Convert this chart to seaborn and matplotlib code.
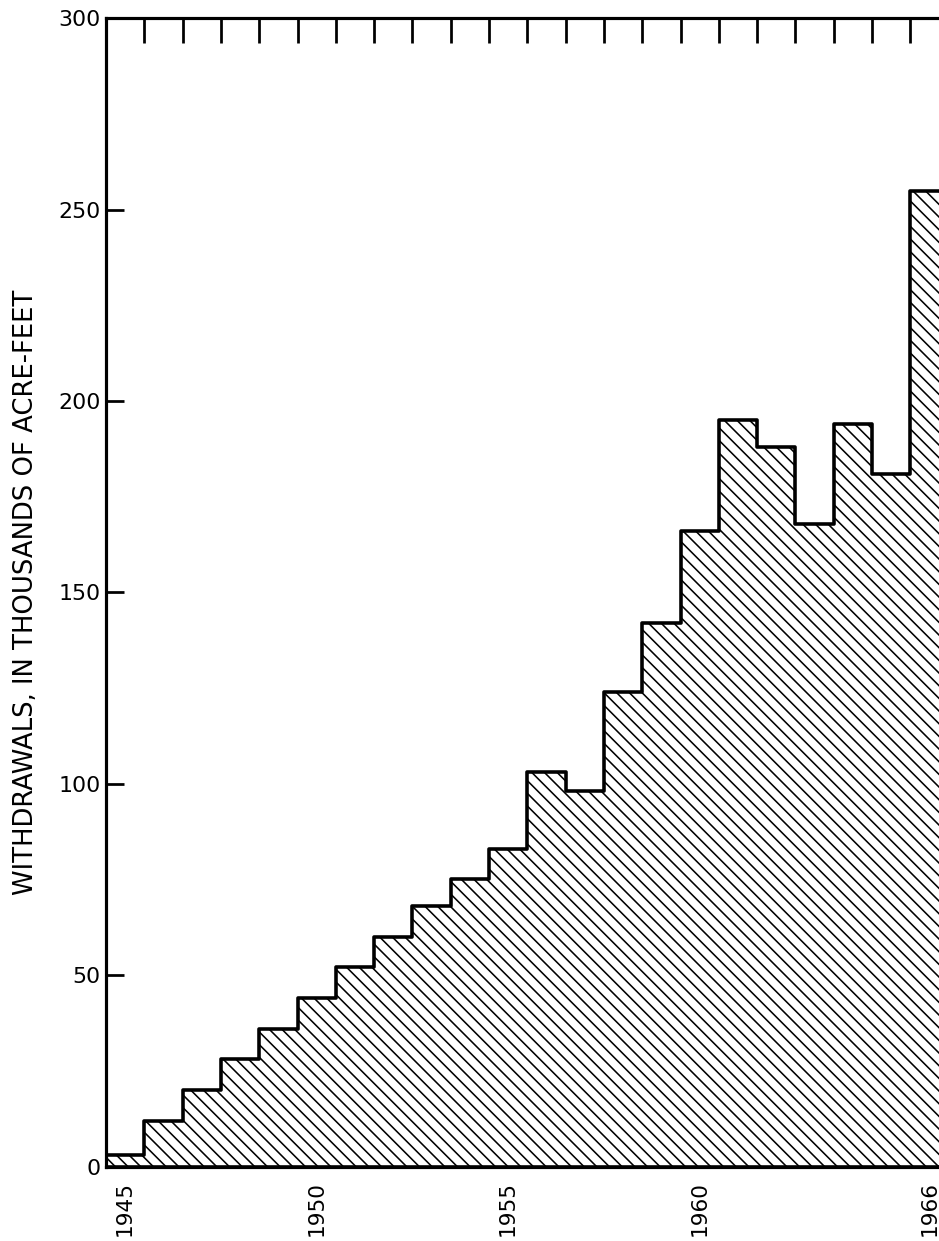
import numpy as np
import pandas as pd
import matplotlib
matplotlib.use("Agg")
import matplotlib.pyplot as plt
import seaborn as sns

# Annual ground-water withdrawals, thousands of acre-feet
years = list(range(1945, 1967))
withdrawals = [3, 12, 20, 28, 36, 44, 52, 60, 68, 75, 83,
               103, 98, 124, 142, 166, 195, 188, 168, 194, 181, 255]
year_labels = [1945, 1950, 1955, 1960, 1966]
y_ticks = [0, 50, 100, 150, 200, 250, 300]
y_label = "WITHDRAWALS, IN THOUSANDS OF ACRE-FEET"

df = pd.DataFrame({"year": years, "withdrawals": withdrawals})

DPI = 76
sns.set_style("white")
plt.rcParams["font.family"] = ["DejaVu Sans"]
plt.rcParams["hatch.linewidth"] = 1.5
plt.rcParams["hatch.color"] = "black"
plt.rcParams["text.color"] = "black"
plt.rcParams["xtick.color"] = "black"
plt.rcParams["ytick.color"] = "black"
plt.rcParams["axes.labelcolor"] = "black"

fig = plt.figure(figsize=(939 / DPI, 1241 / DPI), dpi=DPI)
# the right-hand frame of the plot runs just past the sheet edge
ax = fig.add_axes([0.11289, 0.06003, 0.89734, 0.92522])

sns.histplot(
    data=df, x="year", weights="withdrawals", discrete=True,
    element="step", fill=True, ax=ax,
    facecolor="white", edgecolor="black", linewidth=3.4,
    hatch="\\\\", alpha=1,
)

ax.set_xlim(1944.5, 1966.5)
ax.set_ylim(0, 300)

for side in ["left", "right", "top", "bottom"]:
    ax.spines[side].set_visible(True)
    ax.spines[side].set_linewidth(3.0)
    ax.spines[side].set_color("black")

ax.set_xticks(year_labels)
ax.set_xticklabels([str(y) for y in year_labels], rotation=90,
                   fontsize=20.5, va="top", ha="center")
ax.set_xticks(np.arange(1945.5, 1966, 1), minor=True)
ax.tick_params(axis="x", which="major", length=0, pad=14)
ax.tick_params(axis="x", which="minor", direction="in", length=24,
               width=2.6, top=True, bottom=True, color="black")

ax.set_yticks(y_ticks)
ax.set_yticklabels([str(v) for v in y_ticks], fontsize=21)
ax.tick_params(axis="y", which="major", direction="in", length=17,
               width=2.6, left=True, right=True, pad=5, color="black")

ax.set_xlabel("")
ax.set_ylabel(y_label, fontsize=24.5)
ax.yaxis.set_label_coords(-0.08, 0.5)

fig.savefig("out.png", dpi=DPI)
